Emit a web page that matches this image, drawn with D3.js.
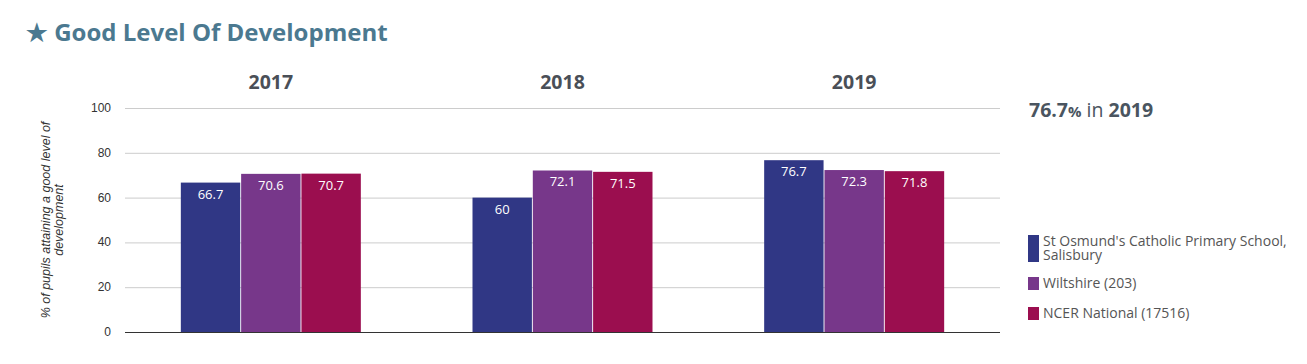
<!DOCTYPE html>
<html><head><meta charset="utf-8">
<script src="https://cdn.jsdelivr.net/npm/d3@7"></script>
<style>body{margin:0;background:#fff;font-family:"Open Sans",sans-serif;}</style>
</head><body>
<svg id="chart" width="1307" height="364"></svg>
<script>
const years = ["2017","2018","2019"];
const seriesNames = ["St Osmund's Catholic Primary School, Salisbury","Wiltshire (203)","NCER National (17516)"];
const schoolValues = [66.7, 60, 76.7];
const wiltshireValues = [70.6, 72.1, 72.3];
const nationalValues = [70.7, 71.5, 71.8];
const yTicks = [0,20,40,60,80,100];
const colors = ["#303785","#77378a","#9b0e4f"];

const svg = d3.select("#chart");
const series = [schoolValues, wiltshireValues, nationalValues];

svg.append("text").attr("x",26).attr("y",41).attr("fill","#4b7990")
  .attr("font-size",24).attr("font-weight","bold").text("★ Good Level Of Development");

const x = d3.scaleBand().domain(years).range([125,1000]);
const y = d3.scaleLinear().domain([0,100]).range([332,108]);
const xi = d3.scaleBand().domain(d3.range(3)).range([0,180]).paddingInner(0.015);
const off = (x.bandwidth()-180)/2;

// grid
svg.append("g").selectAll("line").data(yTicks.filter(d=>d>0)).join("line")
  .attr("x1",125).attr("x2",1000).attr("y1",d=>y(d)+0.5).attr("y2",d=>y(d)+0.5)
  .attr("stroke","#cccccc");
// ticks
svg.append("g").selectAll("text").data(yTicks).join("text")
  .attr("x",111).attr("y",d=>y(d)+4).attr("text-anchor","end")
  .attr("font-size",12).attr("fill","#333").attr("font-family","Arial, Liberation Sans, sans-serif").text(d=>d);
// y label
const yl = svg.append("text").attr("transform","translate(50,220) rotate(-90)")
  .attr("text-anchor","middle").attr("font-size",12.5).attr("font-style","italic").attr("fill","#333")
  .attr("font-family","Arial, Liberation Sans, sans-serif");
yl.append("tspan").attr("x",0).attr("dy",0).text("% of pupils attaining a good level of");
yl.append("tspan").attr("x",0).attr("dy",13).text("development");

// year labels
svg.append("g").selectAll("text").data(years).join("text")
  .attr("x",d=>x(d)+x.bandwidth()/2).attr("y",89).attr("text-anchor","middle")
  .attr("font-size",19.5).attr("font-weight","bold").attr("fill","#4a4f57").text(d=>d);

// bars
years.forEach((yr,i)=>{
  const g = svg.append("g");
  series.forEach((s,j)=>{
    const bx = x(yr)+off+xi(j);
    g.append("rect").attr("x",bx).attr("y",y(s[i])).attr("width",xi.bandwidth())
      .attr("height",y(0)-y(s[i])).attr("fill",colors[j]);
    g.append("text").attr("x",bx+xi.bandwidth()/2).attr("y",y(s[i])+16)
      .attr("text-anchor","middle").attr("font-size",13).attr("fill","#fff").text(s[i]);
  });
});

// baseline
svg.append("line").attr("x1",125).attr("x2",1000).attr("y1",y(0)+0.5).attr("y2",y(0)+0.5).attr("stroke","#333");

// summary
const last = years.length-1;
const st = svg.append("text").attr("x",1029).attr("y",117).attr("fill","#4a5560").attr("font-size",19.5);
st.append("tspan").attr("font-weight","bold").text(schoolValues[last]);
st.append("tspan").attr("font-weight","bold").attr("font-size",15).text("%");
st.append("tspan").text(" in ");
st.append("tspan").attr("font-weight","bold").text(years[last]);

// legend
const leg = svg.append("g").attr("font-size",14).attr("fill","#555");
const legItems = [
  {lines:["St Osmund's Catholic Primary School,","Salisbury"], y:235, h:27},
  {lines:["Wiltshire (203)"], y:277, h:13},
  {lines:["NCER National (17516)"], y:307, h:13}
];
legItems.forEach((it,i)=>{
  leg.append("rect").attr("x",1028).attr("y",it.y).attr("width",11).attr("height",it.h).attr("fill",colors[i]);
  it.lines.forEach((l,k)=>{
    leg.append("text").attr("x",1043).attr("y",it.y+11+k*14).attr("fill","#555").text(l);
  });
});
</script>
</body></html>
